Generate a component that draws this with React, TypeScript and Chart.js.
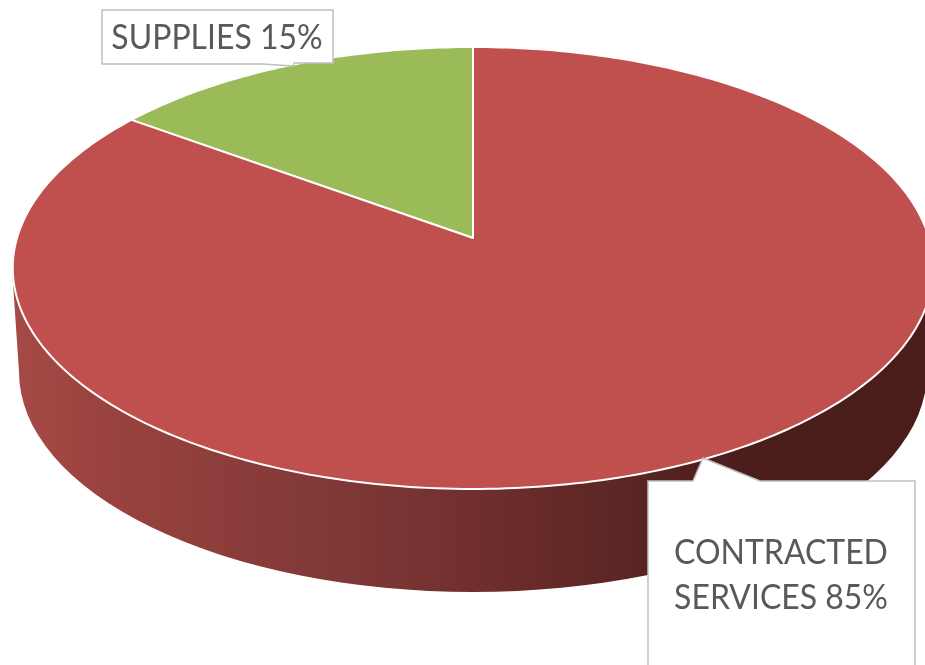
import React, { useEffect, useRef } from "react";
import { Chart, registerables, ArcElement, PieController } from "chart.js";

const categories = ["SUPPLIES", "CONTRACTED SERVICES"];
const shares = [15, 85];
const sliceColors = ["#9bbb59", "#c0504d"];
const calloutLines = [["SUPPLIES 15%"], ["CONTRACTED", "SERVICES 85%"]];
const sideStops: [number, string][] = [
  [0, "#a64a47"],
  [0.1, "#9a423f"],
  [0.35, "#803937"],
  [0.52, "#6e2e2c"],
  [0.68, "#5a2523"],
  [0.8, "#4b1d1b"],
  [1, "#4a1c1a"],
];

// Perspective view of the unit circle of the pie
const VIEW = { x0: 473, y0: 238, ax: 456, ay: 184.6, k: -0.1357 };
const project = (angle: number) => {
  const u = Math.cos(angle);
  const v = Math.sin(angle);
  const d = VIEW.k * v + 1;
  return [VIEW.x0 + (VIEW.ax * u) / d, (VIEW.ay * v + VIEW.y0) / d];
};

class PerspectiveArc extends ArcElement {
  static id = "perspectiveArc";
  draw(ctx: CanvasRenderingContext2D) {
    const { startAngle, endAngle } = this as any;
    const o = (this as any).options;
    ctx.save();
    ctx.beginPath();
    ctx.moveTo(VIEW.x0, VIEW.y0);
    const n = Math.max(8, Math.ceil((endAngle - startAngle) * 60));
    for (let i = 0; i <= n; i++) {
      const p = project(startAngle + ((endAngle - startAngle) * i) / n);
      ctx.lineTo(p[0], p[1]);
    }
    ctx.closePath();
    ctx.fillStyle = o.backgroundColor;
    ctx.fill();
    ctx.lineWidth = o.borderWidth;
    ctx.strokeStyle = o.borderColor;
    ctx.lineJoin = "round";
    ctx.stroke();
    ctx.restore();
  }
}

class PerspectivePie extends PieController {
  static id = "perspectivePie";
  static defaults = { ...PieController.defaults, dataElementType: "perspectiveArc" };
}

const SIDE = { cx: 473, cy: 372, rx: 454, ry: 220 };
const sidePlugin = {
  id: "pieSide",
  beforeDatasetsDraw(chart: any) {
    const ctx: CanvasRenderingContext2D = chart.ctx;
    const g = ctx.createLinearGradient(12, 0, 925, 0);
    sideStops.forEach(([t, c]) => g.addColorStop(t, c));
    ctx.save();
    ctx.beginPath();
    ctx.moveTo(12, 268);
    ctx.lineTo(SIDE.cx - SIDE.rx, SIDE.cy);
    ctx.ellipse(SIDE.cx, SIDE.cy, SIDE.rx, SIDE.ry, 0, Math.PI, 0, true);
    ctx.lineTo(934, 268);
    ctx.closePath();
    ctx.fillStyle = g;
    ctx.fill();
    ctx.restore();
  },
};

const BOX_FONT = '34px Lato, "Open Sans", sans-serif';
const TEXT_SQUEEZE = 0.94;
const calloutPlugin = {
  id: "callouts",
  afterDatasetsDraw(chart: any) {
    const ctx: CanvasRenderingContext2D = chart.ctx;
    const labels: string[][] = chart.options.plugins.callouts.lines;
    const boxes = [
      { path: [[102, 10], [333, 10], [333, 63], [294, 63], [293, 66], [262, 64], [102, 64]], tx: 217, ty: [38] },
      { path: [[648, 481], [693, 481], [703, 458], [760, 481], [915, 481], [915, 680], [648, 680]], tx: 781, ty: [553, 598] },
    ];
    ctx.save();
    boxes.forEach((b, i) => {
      ctx.beginPath();
      b.path.forEach((p, j) => (j ? ctx.lineTo(p[0], p[1]) : ctx.moveTo(p[0], p[1])));
      ctx.closePath();
      ctx.fillStyle = "#ffffff";
      ctx.fill();
      ctx.lineWidth = 1.5;
      ctx.strokeStyle = "#bfbfbf";
      ctx.stroke();
      ctx.fillStyle = "#595959";
      ctx.font = BOX_FONT;
      ctx.textAlign = "center";
      ctx.textBaseline = "middle";
      labels[i].forEach((t, k) => {
        ctx.save();
        ctx.translate(b.tx, b.ty[k]);
        ctx.scale(TEXT_SQUEEZE, 1);
        ctx.fillText(t, 0, 0);
        ctx.restore();
      });
    });
    ctx.restore();
  },
};

Chart.register(...registerables, PerspectiveArc as any, PerspectivePie as any);

export default function App() {
  const ref = useRef<HTMLCanvasElement>(null);
  useEffect(() => {
    const chart = new Chart(ref.current as HTMLCanvasElement, {
      type: "perspectivePie" as any,
      data: {
        labels: categories,
        datasets: [
          {
            data: shares,
            backgroundColor: sliceColors,
            borderColor: "#ffffff",
            borderWidth: 2,
          },
        ],
      },
      options: {
        responsive: false,
        animation: false,
        rotation: -54,
        events: [],
        plugins: {
          legend: { display: false },
          tooltip: { enabled: false },
          callouts: { lines: calloutLines },
        } as any,
      },
      plugins: [sidePlugin, calloutPlugin],
    } as any);
    return () => chart.destroy();
  }, []);
  return (
    <div style={{ position: "absolute", left: 0, top: 0, width: 925, height: 665, overflow: "hidden", background: "#fff" }}>
      <canvas ref={ref} width={925} height={665} style={{ display: "block" }} />
    </div>
  );
}
